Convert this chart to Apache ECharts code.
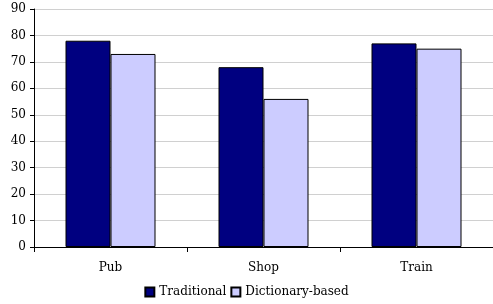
<!DOCTYPE html>
<html>
<head>
<meta charset="utf-8">
<script src="https://cdn.jsdelivr.net/npm/echarts@6/dist/echarts.min.js"></script>
<style>
  html, body { margin: 0; padding: 0; background: #fff; }
  #container { width: 493px; height: 304px; }
</style>
</head>
<body>
<div id="container"></div>
<script>
var categories = ['Pub', 'Shop', 'Train'];
var traditional = [78, 68, 77];
var dictionaryBased = [73, 56, 75];

var chart = echarts.init(document.querySelector('#container'));
var font = 'DejaVu Serif';
chart.setOption({
  animation: false,
  grid: { left: 34, right: 0, top: 9, bottom: 57 },
  legend: {
    bottom: 1,
    left: 'center',
    itemWidth: 9,
    itemHeight: 9,
    itemGap: 4,
    icon: 'rect',
    textStyle: { fontFamily: font, fontSize: 12, color: '#000' },
    data: ['Traditional', 'Dictionary-based']
  },
  xAxis: {
    type: 'category',
    data: categories,
    axisLine: { lineStyle: { color: '#000' } },
    axisTick: { show: true, length: 5, lineStyle: { color: '#000' } },
    axisLabel: { fontFamily: font, fontSize: 12, color: '#000', margin: 15 }
  },
  yAxis: {
    type: 'value',
    min: 0,
    max: 90,
    interval: 10,
    axisLine: { show: true, lineStyle: { color: '#000' } },
    axisTick: { show: true, length: 4, lineStyle: { color: '#000' } },
    axisLabel: { fontFamily: font, fontSize: 12, color: '#000', margin: 8 },
    splitLine: { lineStyle: { color: '#d0d0d0' } }
  },
  series: [
    {
      name: 'Traditional',
      type: 'bar',
      data: traditional,
      barWidth: 45,
      barGap: '0%',
      itemStyle: { color: '#000080', borderColor: '#000', borderWidth: 1 }
    },
    {
      name: 'Dictionary-based',
      type: 'bar',
      data: dictionaryBased,
      barWidth: 45,
      itemStyle: { color: '#ccccff', borderColor: '#000', borderWidth: 1 }
    }
  ]
});
</script>
</body>
</html>
